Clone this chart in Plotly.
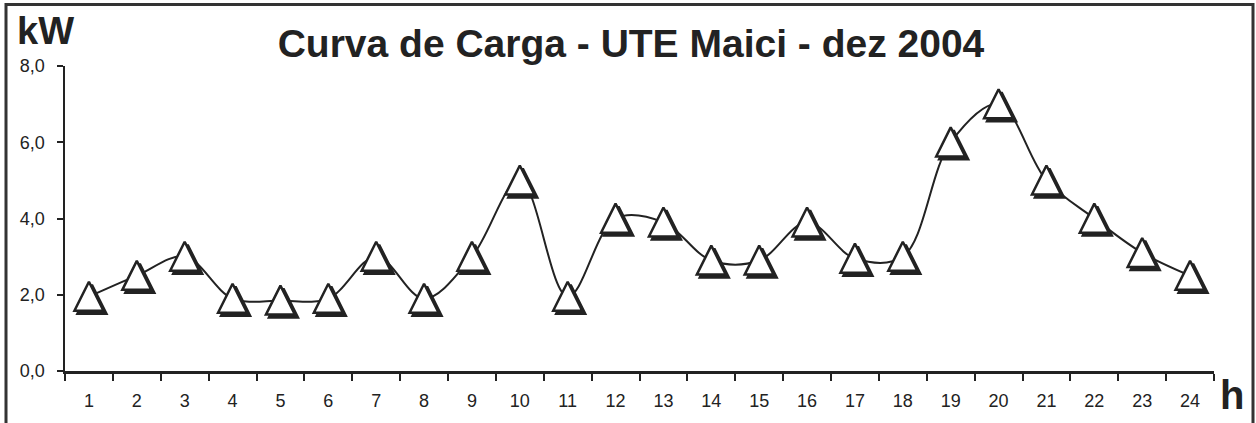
import plotly.graph_objects as go

# ---- data ----
hours = [str(h) for h in range(1, 25)]
load_kw = [1.95, 2.5, 3.0, 1.9, 1.85, 1.9, 3.0, 1.9, 3.0, 5.0, 1.95, 4.0,
           3.9, 2.9, 2.9, 3.9, 2.95, 3.0, 6.0, 7.0, 5.0, 4.0, 3.1, 2.5]
y_ticks = [0, 2, 4, 6, 8]
y_tick_labels = ["0,0", "2,0", "4,0", "6,0", "8,0"]
title_text = "Curva de Carga - UTE Maici - dez 2004"
y_unit = "kW"
x_unit = "h"

# ---- geometry ----
W, H = 1256, 423
ML, MR, MT, MB = 65, 42, 66, 49
plot_w = W - ML - MR
plot_h = H - MT - MB
y_max = 8
px_per_unit = plot_h / y_max
px_per_cat = plot_w / len(hours)

tri_lift = 15 / px_per_unit       # lift the marker so its centre sits on the curve
shadow_dy = 3 / px_per_unit
shadow_dx = 3 / px_per_cat

ink = "#222222"
font = "Liberation Sans, Arial, sans-serif"

fig = go.Figure()

# smooth load curve
fig.add_trace(go.Scatter(
    x=hours, y=load_kw, mode="lines",
    line=dict(color=ink, width=2, shape="spline", smoothing=1.0),
    hoverinfo="skip", showlegend=False, xaxis="x", yaxis="y"))

# marker shadow
fig.add_trace(go.Scatter(
    x=hours, y=load_kw, mode="markers",
    marker=dict(symbol="arrow-up", size=29, color=ink,
                line=dict(color=ink, width=2.5)),
    hoverinfo="skip", showlegend=False, xaxis="x2", yaxis="y2"))

# white triangle markers
fig.add_trace(go.Scatter(
    x=hours, y=load_kw, mode="markers",
    marker=dict(symbol="arrow-up", size=29, color="white",
                line=dict(color=ink, width=2.5)),
    showlegend=False, xaxis="x3", yaxis="y3"))

fig.update_layout(
    width=W, height=H,
    margin=dict(l=ML, r=MR, t=MT, b=MB),
    paper_bgcolor="white", plot_bgcolor="white",
    font=dict(family=font, color=ink),
    title=dict(text=title_text, x=631 / W, xref="container", xanchor="center",
               y=1 - 43 / H, yref="container", yanchor="middle",
               font=dict(family=font, size=39, color=ink, weight="bold")),
    xaxis=dict(type="category", range=[-0.5, len(hours) - 0.5],
               showline=True, linecolor=ink, linewidth=2.5,
               ticks="outside", tickson="boundaries", ticklen=7,
               tickwidth=2, tickcolor=ink, showgrid=False, zeroline=False,
               tickfont=dict(family=font, size=18, color=ink),
               ticklabelstandoff=12, fixedrange=True),
    yaxis=dict(range=[0, y_max], tickvals=y_ticks, ticktext=y_tick_labels,
               showline=True, linecolor=ink, linewidth=2.5,
               ticks="outside", ticklen=6, tickwidth=2, tickcolor=ink,
               showgrid=False, zeroline=False,
               tickfont=dict(family=font, size=18, color=ink),
               ticklabelstandoff=8, fixedrange=True),
    xaxis2=dict(type="category", overlaying="x", visible=False,
                range=[-0.5 - shadow_dx, len(hours) - 0.5 - shadow_dx]),
    yaxis2=dict(overlaying="y", visible=False,
                range=[-(tri_lift - shadow_dy), y_max - (tri_lift - shadow_dy)]),
    xaxis3=dict(type="category", overlaying="x", visible=False,
                range=[-0.5, len(hours) - 0.5]),
    yaxis3=dict(overlaying="y", visible=False,
                range=[-tri_lift, y_max - tri_lift]),
    annotations=[
        dict(text=f"<b>{y_unit}</b>", xref="paper", yref="paper",
             x=(45 - ML) / plot_w, y=(H - MB - 31) / plot_h,
             xanchor="center", yanchor="middle", showarrow=False,
             font=dict(family=font, size=38, color=ink)),
        dict(text=f"<b>{x_unit}</b>", xref="paper", yref="paper",
             x=(1232 - ML) / plot_w, y=(H - MB - 398) / plot_h,
             xanchor="center", yanchor="middle", showarrow=False,
             font=dict(family=font, size=40, color=ink)),
    ],
    shapes=[dict(type="rect", xref="paper", yref="paper",
                 x0=(6 - ML) / plot_w, x1=(1253 - ML) / plot_w,
                 y0=(H - MB - 440) / plot_h, y1=(H - MB - 4) / plot_h,
                 line=dict(color="#333333", width=3), layer="below")],
)

fig.write_html(
    "out.html",
    config={"displayModeBar": False, "staticPlot": True},
    post_script="document.body.style.margin='0';document.body.style.overflow='hidden';",
)
